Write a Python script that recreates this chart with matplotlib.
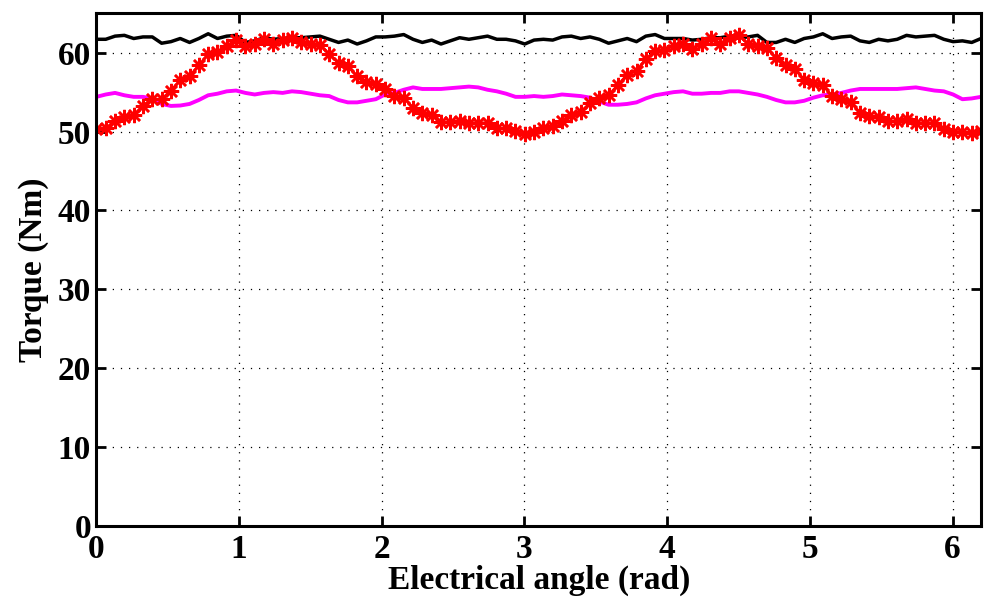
import numpy as np
import matplotlib
matplotlib.use("Agg")
import matplotlib.pyplot as plt

# --- Datos (par, Nm) ---
ANGLE_MAX = 6.2   # último ángulo eléctrico muestreado (rad)
N_POINTS = 96

torque_black = [
    61.7, 61.7, 62.1, 62.2, 61.8, 62.0, 62.0, 61.2, 61.4, 61.8, 61.3, 61.8, 62.4, 61.8, 62.1, 62.2,
    61.3, 61.5, 61.9, 61.7, 61.8, 61.9, 61.9, 62.0, 62.1, 61.7, 61.3, 61.6, 61.1, 61.5, 62.0, 62.0,
    62.1, 62.3, 61.7, 61.3, 61.6, 61.1, 61.5, 61.9, 61.7, 61.9, 62.1, 61.7, 61.7, 61.5, 61.1, 61.6,
    61.7, 61.6, 62.0, 62.1, 61.8, 62.0, 61.7, 61.2, 61.5, 61.8, 61.4, 62.1, 62.3, 61.8, 61.8,
    61.8, 61.6, 61.7, 61.9, 61.9, 62.1, 61.9, 62.0, 62.2, 61.3, 61.3, 61.7, 61.3, 61.8, 62.0, 62.4,
    61.8, 62.0, 62.1, 61.5, 61.3, 61.7, 61.5, 61.7, 62.2, 62.0, 62.1, 62.2, 61.7, 61.4, 61.5, 61.3, 61.8,
]

torque_magenta = [
    54.4, 54.7, 54.9, 54.6, 54.4, 54.4, 54.2, 53.5, 53.25, 53.3, 53.5, 54.0, 54.6, 54.8, 55.1, 55.2,
    54.9, 54.7, 54.9, 55.0, 54.9, 55.1, 55.0, 54.8, 54.6, 54.5, 54.0, 53.7, 53.7, 53.9, 54.1, 54.7,
    54.9, 55.3, 55.6, 55.4, 55.4, 55.4, 55.5, 55.6, 55.7, 55.6, 55.3, 55.1, 54.8, 54.4, 54.4, 54.5,
    54.4, 54.5, 54.7, 54.6, 54.5, 54.3, 53.8, 53.4, 53.4, 53.5, 53.7, 54.2, 54.6, 54.8, 55.0,
    55.1, 54.8, 54.8, 54.9, 54.9, 55.1, 55.1, 54.9, 54.7, 54.4, 54.0, 53.7, 53.7, 53.9, 54.3, 54.6,
    54.7, 54.9, 55.2, 55.4, 55.4, 55.4, 55.4, 55.4, 55.5, 55.6, 55.4, 55.2, 55.1, 54.7, 54.1, 54.2, 54.4,
]

torque_red = [
    50.3, 50.4, 51.3, 51.8, 52.1, 53.3, 54.1, 54.1, 55.2, 56.5, 57.0, 58.4, 59.8, 60.1, 60.8, 61.6,
    60.8, 61.1, 61.7, 61.1, 61.6, 61.9, 61.3, 61.1, 61.0, 59.8, 58.7, 58.3, 57.0, 56.3, 56.0, 55.4,
    54.5, 54.3, 53.0, 52.4, 52.1, 51.2, 51.2, 51.4, 51.1, 51.1, 51.1, 50.4, 50.4, 50.1, 49.7, 50.0,
    50.4, 50.7, 51.4, 52.1, 52.5, 53.6, 54.3, 54.6, 55.9, 57.2, 57.7, 59.2, 60.2, 60.3, 60.9,
    61.1, 60.5, 61.1, 61.8, 61.1, 61.8, 62.2, 61.1, 60.8, 60.6, 59.3, 58.4, 57.9, 56.6, 56.1, 55.9,
    54.5, 54.1, 53.7, 52.4, 52.0, 51.8, 51.3, 51.3, 51.6, 51.1, 51.1, 51.1, 50.3, 50.0, 50.0, 49.8, 50.1,
]

x_ticks = [0, 1, 2, 3, 4, 5, 6]
y_ticks = [0, 10, 20, 30, 40, 50, 60]

angle = np.linspace(0, ANGLE_MAX, N_POINTS)

# --- Estilo tipo MATLAB ---
plt.rcParams['font.family'] = ['Liberation Serif', 'DejaVu Serif']
plt.rcParams['font.weight'] = 'bold'
plt.rcParams['font.size'] = 24

fig = plt.figure(figsize=(9.84, 6.03), dpi=100)
ax = fig.add_axes([0.098, 0.128, 0.899, 0.850])

ax.plot(angle, torque_black, color='black', linewidth=2.5)
ax.plot(angle, torque_magenta, color='#ff00ff', linewidth=2.8)
ax.plot(angle, torque_red, color='#ff0000', linewidth=2.0,
        marker=(8, 2, 0), markersize=11, markeredgewidth=1.8)

ax.set_xlim(0, ANGLE_MAX)
ax.set_ylim(0, 65)
ax.set_xticks(x_ticks)
ax.set_yticks(y_ticks)
ax.grid(True, color='black', linestyle=(0, (1, 5.5)), linewidth=0.9)

ax.tick_params(direction='in', length=7, width=2, top=True, right=True)
ax.tick_params(axis='x', pad=6)
ax.tick_params(axis='y', pad=4)
for sp in ax.spines.values():
    sp.set_linewidth(2.2)

ax.set_xlabel('Electrical angle (rad)', fontweight='bold', labelpad=0)
ax.set_ylabel('Torque (Nm)', fontweight='bold', labelpad=6)

fig.savefig('out.png', dpi=100)
